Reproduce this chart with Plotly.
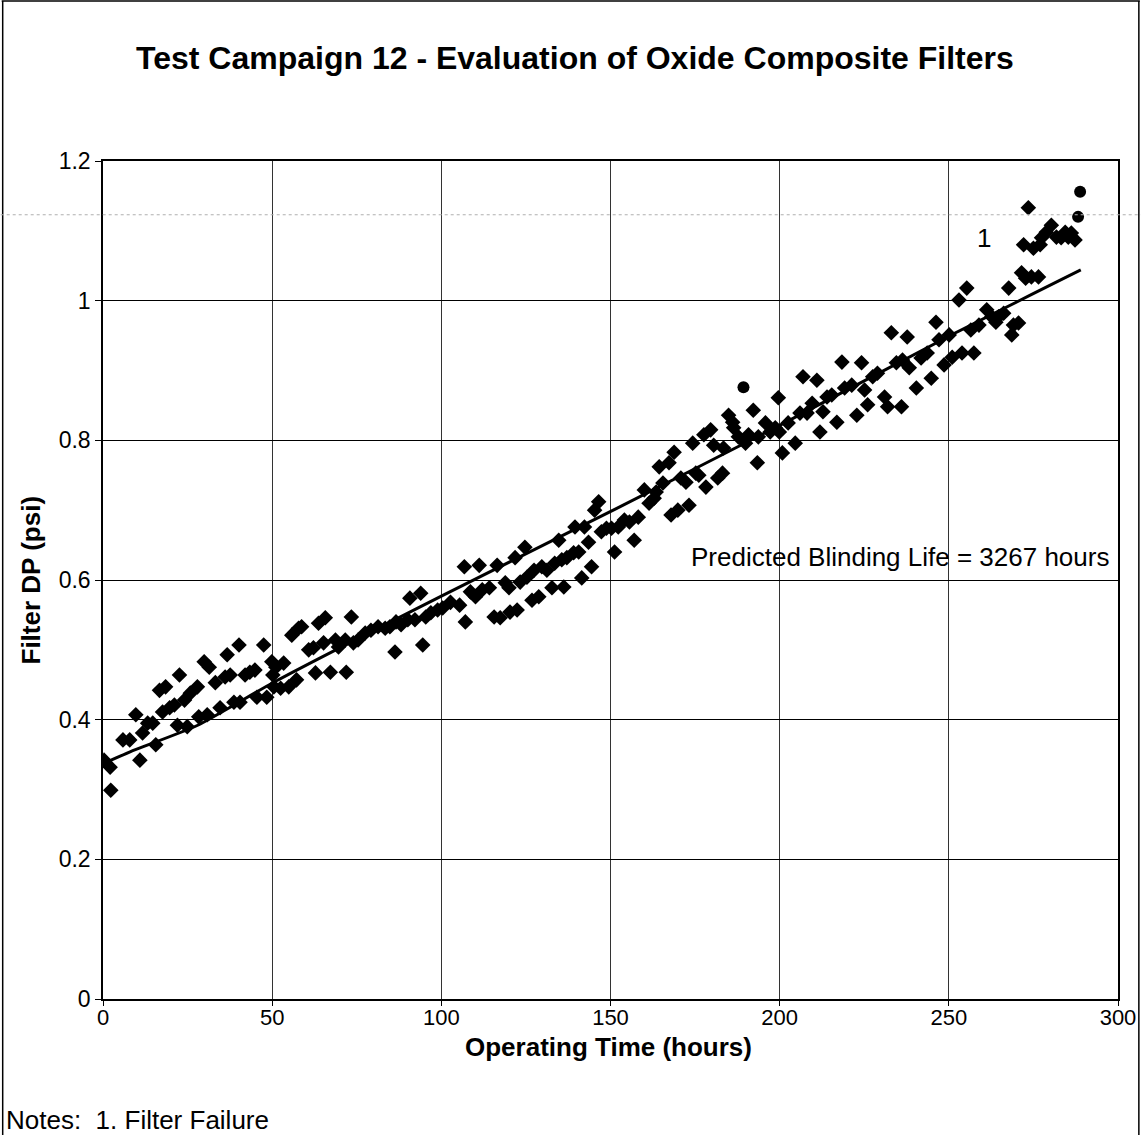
import plotly.graph_objects as go

# Operating time (hours) and filter differential pressure (psi) readings
hours = [
    0.3, 2.1, 2.3, 5.9, 7.9, 9.7, 10.9, 11.7, 13.2, 14.7, 15.6, 16.7, 17.6, 18.5, 19.7,
    21.1, 22.0, 22.6, 24.1, 24.9, 25.8, 27.9, 28.3, 29.9, 30.8, 31.4, 33.2, 34.6, 36.1,
    36.7, 37.6, 38.7, 40.2, 40.5, 42.0, 43.4, 44.9, 45.5, 47.5, 48.4, 49.9, 50.2, 50.5,
    51.1, 52.5, 53.4, 54.9, 55.8, 57.2, 57.8, 58.7, 60.8, 62.2, 62.8, 63.7, 65.2, 65.7,
    67.2, 68.7, 69.6, 71.6, 71.9, 73.4, 74.0, 75.4, 77.5, 79.2, 81.3, 83.4, 84.8, 86.3,
    86.6, 88.1, 90.1, 90.7, 92.2, 93.9, 94.5, 95.4, 96.9, 98.9, 100.4,
    102.7, 105.4, 106.8, 107.1, 108.6, 110.1, 111.2, 112.1, 114.2, 115.6, 116.5, 117.4,
    118.9, 120.0, 120.3, 121.8, 122.4, 123.3, 124.7, 125.3, 126.8, 127.4, 128.8, 129.7,
    131.2, 132.7, 133.5, 134.7, 135.6, 136.2, 137.1, 139.1, 139.5, 140.6, 141.5, 142.3,
    143.5, 144.4, 145.3, 146.5, 147.3, 148.8, 150.3, 151.2,
    152.3, 154.1, 155.6, 157.0, 158.2, 160.0, 161.4, 162.9, 163.5, 164.4, 165.5, 167.3,
    167.9, 168.8, 169.9, 170.8, 172.3, 173.2, 174.3, 175.2, 176.1, 177.6, 178.2, 179.6,
    180.5, 181.7, 183.1, 183.4, 184.9, 186.1, 186.4, 187.8, 189.9, 190.8, 192.2, 193.4,
    193.7, 195.8, 197.2, 198.7, 199.6, 199.9, 200.8,
    202.5, 204.6, 206.0, 206.9, 208.1, 209.6, 211.0, 211.9, 212.8, 214.0, 215.4, 216.9,
    218.4, 219.2, 221.3, 222.8, 224.2, 225.1, 226.0, 227.5, 228.9, 231.0, 231.9, 233.0,
    234.5, 236.0, 236.3, 237.7, 238.3, 240.4, 241.8, 243.6, 244.8, 246.2, 247.1, 248.6,
    250.1, 251.0,
    253.0, 253.9, 255.3, 256.5, 257.4, 258.9, 261.2, 262.7, 263.9, 264.7, 266.2, 267.7,
    268.6, 269.1, 270.6, 271.5, 272.1, 272.7, 273.5, 274.4, 275.0, 276.5, 277.0, 277.4,
    278.8, 280.3, 281.8, 283.2, 284.4, 285.3, 286.2, 287.3,
]
dp_psi = [
    0.342, 0.332, 0.299, 0.371, 0.371, 0.407, 0.342, 0.381, 0.395, 0.395, 0.364, 0.442, 0.411, 0.447, 0.417,
    0.421, 0.392, 0.464, 0.428, 0.390, 0.438, 0.447, 0.404, 0.483, 0.407, 0.475, 0.453, 0.417, 0.461,
    0.493, 0.464, 0.425, 0.507, 0.425, 0.464, 0.468, 0.471, 0.432, 0.507, 0.432, 0.483, 0.464, 0.447,
    0.475, 0.445, 0.481, 0.447, 0.521, 0.457, 0.531, 0.533, 0.500, 0.503, 0.467, 0.538, 0.510, 0.546,
    0.468, 0.514, 0.504, 0.514, 0.468, 0.547, 0.510, 0.514, 0.524, 0.528, 0.533, 0.531, 0.533, 0.497,
    0.540, 0.536, 0.543, 0.574, 0.543, 0.581, 0.507, 0.547, 0.553, 0.557, 0.560,
    0.568, 0.564, 0.619, 0.540, 0.583, 0.576, 0.621, 0.586, 0.589, 0.547, 0.621, 0.546,
    0.596, 0.589, 0.554, 0.632, 0.557, 0.597, 0.647, 0.604, 0.571, 0.614, 0.576, 0.619,
    0.614, 0.589, 0.624, 0.657, 0.629, 0.590, 0.632, 0.639, 0.676, 0.640, 0.603, 0.676,
    0.654, 0.619, 0.700, 0.712, 0.669, 0.674, 0.674, 0.640,
    0.676, 0.686, 0.683, 0.657, 0.690, 0.729, 0.710, 0.717, 0.726, 0.762, 0.739, 0.768,
    0.693, 0.783, 0.700, 0.746, 0.740, 0.707, 0.796, 0.753, 0.750, 0.808, 0.733, 0.815,
    0.793, 0.746, 0.753, 0.789, 0.836, 0.826, 0.818, 0.805, 0.796, 0.808, 0.843, 0.768,
    0.805, 0.825, 0.812, 0.818, 0.861, 0.812, 0.782,
    0.825, 0.796, 0.839, 0.891, 0.839, 0.853, 0.886, 0.812, 0.841, 0.862, 0.865, 0.826,
    0.912, 0.875, 0.879, 0.836, 0.911, 0.872, 0.851, 0.891, 0.896, 0.862, 0.848, 0.954,
    0.911, 0.848, 0.915, 0.948, 0.904, 0.875, 0.918, 0.925, 0.889, 0.969, 0.944, 0.908,
    0.951, 0.919,
    1.001, 0.925, 1.018, 0.958, 0.925, 0.965, 0.987, 0.977, 0.969, 0.977, 0.982, 1.018,
    0.951, 0.965, 0.968, 1.040, 1.080, 1.032, 1.133, 1.034, 1.075, 1.034, 1.080, 1.090,
    1.098, 1.108, 1.091, 1.090, 1.098, 1.091, 1.097, 1.087,
]

# Readings drawn with round markers
circle_hours = [189.3, 288.2, 288.8]
circle_dp = [0.876, 1.120, 1.156]

# Trend curve through the data
trend_hours = [0, 8, 28, 51, 100, 152, 201, 252, 289]
trend_dp = [0.337, 0.354, 0.392, 0.455, 0.577, 0.703, 0.824, 0.954, 1.044]

x_ticks = [0, 50, 100, 150, 200, 250, 300]
y_ticks = [0, 0.2, 0.4, 0.6, 0.8, 1.0, 1.2]

FONT = "Arial, 'Liberation Sans', sans-serif"

fig = go.Figure()

fig.add_trace(go.Scatter(
    x=hours, y=dp_psi, mode="markers",
    marker=dict(symbol="diamond", size=12, color="black", line=dict(width=0)),
    showlegend=False, hoverinfo="x+y",
))
fig.add_trace(go.Scatter(
    x=circle_hours, y=circle_dp, mode="markers",
    marker=dict(symbol="circle", size=12, color="black", line=dict(width=0)),
    showlegend=False,
))
fig.add_trace(go.Scatter(
    x=trend_hours, y=trend_dp, mode="lines",
    line=dict(color="black", width=3, shape="spline", smoothing=0.6),
    showlegend=False, hoverinfo="skip",
))

W, H = 1148, 1135
L, R, T, B = 103, 23, 161, 136
pw, ph = W - L - R, H - T - B


def px_x(px):
    return (px - L) / pw


def px_y(py):
    return (H - B - py) / ph


annotations = [
    dict(text="<b>Test Campaign 12 - Evaluation of Oxide Composite Filters</b>",
         xref="paper", yref="paper", x=px_x(578), y=px_y(58),
         showarrow=False, font=dict(size=32, family=FONT, color="black"),
         xanchor="center", yanchor="middle"),
    dict(text="<b>Operating Time (hours)</b>",
         xref="paper", yref="paper", x=px_x(612), y=px_y(1047),
         showarrow=False, font=dict(size=26, family=FONT, color="black"),
         xanchor="center", yanchor="middle"),
    dict(text="<b>Filter DP (psi)</b>", textangle=-90,
         xref="paper", yref="paper", x=px_x(30), y=px_y(580),
         showarrow=False, font=dict(size=26, family=FONT, color="black"),
         xanchor="center", yanchor="middle"),
    dict(text="Predicted Blinding Life = 3267 hours",
         xref="x", yref="y", x=173.2, y=0.633,
         showarrow=False, font=dict(size=26, family=FONT, color="black"),
         xanchor="left", yanchor="middle"),
    dict(text="1", xref="x", yref="y", x=260.5, y=1.09,
         showarrow=False, font=dict(size=26, family=FONT, color="black"),
         xanchor="center", yanchor="middle"),
    dict(text="Notes:  1. Filter Failure",
         xref="paper", yref="paper", x=px_x(3), y=px_y(1120),
         showarrow=False, font=dict(size=26, family=FONT, color="black"),
         xanchor="left", yanchor="middle"),
]

shapes = [
    # outer frame of the chart sheet
    dict(type="line", xref="paper", yref="paper",
         x0=px_x(1), y0=px_y(1), x1=px_x(1147), y1=px_y(1),
         line=dict(color="black", width=1.5)),
    dict(type="line", xref="paper", yref="paper",
         x0=px_x(2), y0=px_y(1), x1=px_x(2), y1=px_y(1135),
         line=dict(color="black", width=1.5)),
    dict(type="line", xref="paper", yref="paper",
         x0=px_x(1146), y0=px_y(1), x1=px_x(1146), y1=px_y(1135),
         line=dict(color="black", width=1.5)),
    # faint dotted reference line across the sheet
    dict(type="line", xref="paper", yref="y",
         x0=px_x(0), y0=1.123, x1=px_x(1148), y1=1.123,
         line=dict(color="#b0b0b0", width=1.2, dash="dot")),
]

fig.update_layout(
    width=W, height=H,
    margin=dict(l=L, r=R, t=T, b=B),
    paper_bgcolor="white", plot_bgcolor="white",
    font=dict(family=FONT, color="black", size=22),
    annotations=annotations, shapes=shapes,
    showlegend=False,
)

fig.update_xaxes(
    range=[0, 300], tickvals=x_ticks, ticktext=[str(v) for v in x_ticks],
    showgrid=True, gridcolor="#333333", gridwidth=1,
    showline=True, linecolor="black", linewidth=1.5, mirror=True,
    ticks="outside", ticklen=5, tickcolor="black", ticklabelstandoff=-7,
    tickfont=dict(size=22, family=FONT, color="black"),
    zeroline=False,
)
fig.update_yaxes(
    range=[0, 1.2], tickvals=y_ticks,
    ticktext=["0", "0.2", "0.4", "0.6", "0.8", "1", "1.2"],
    showgrid=True, gridcolor="black", gridwidth=1.3,
    showline=True, linecolor="black", linewidth=1.5, mirror=True,
    ticks="outside", ticklen=6, tickcolor="black",
    tickfont=dict(size=23, family=FONT, color="black"),
    zeroline=False,
)

fig.write_html("out.html")
